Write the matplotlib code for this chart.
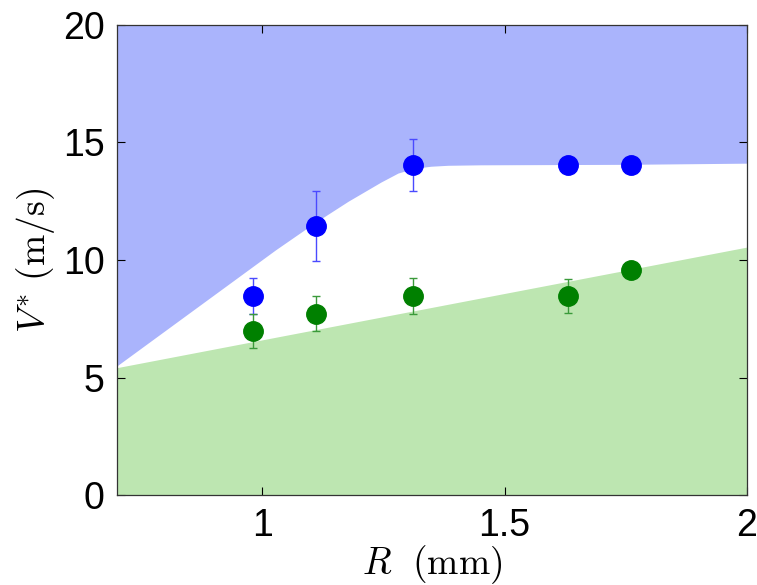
import matplotlib
matplotlib.use("Agg")
import matplotlib.pyplot as plt

plt.rcParams['font.family'] = ['Liberation Sans', 'DejaVu Sans']
plt.rcParams['mathtext.fontset'] = 'cm'

# measured points
R_blue = [0.98, 1.11, 1.31, 1.63, 1.76]
V_blue = [8.47, 11.45, 14.04, 14.04, 14.04]
err_blue = [0.75, 1.48, 1.12, 0.0, 0.0]

R_green = [0.98, 1.11, 1.31, 1.63, 1.76]
V_green = [6.98, 7.72, 8.47, 8.47, 9.57]
err_green = [0.73, 0.75, 0.75, 0.73, 0.0]

# region boundaries
R_upper = [0.70, 1.027, 1.107, 1.177, 1.245, 1.280, 1.313, 1.348, 1.383, 1.45, 1.75, 2.00]
V_upper = [5.50, 10.43, 11.57, 12.50, 13.32, 13.70, 13.90, 13.99, 14.03, 14.05, 14.07, 14.12]
R_lower = [0.70, 2.00]
V_lower = [5.42, 10.55]

fig = plt.figure(figsize=(7.57, 5.85), dpi=100)
ax = fig.add_axes([0.1546, 0.1538, 0.832, 0.8035])

ax.fill_between(R_upper, V_upper, 20, color='#aab4fc', linewidth=0, zorder=1)
ax.fill_between(R_lower, 0, V_lower, color='#bde6b1', linewidth=0, zorder=1)

ax.errorbar(R_blue, V_blue, yerr=err_blue, fmt='o', color='#0000ff', ms=14,
            ecolor='#4a4aff', elinewidth=1, capsize=3, zorder=3)
ax.errorbar(R_green, V_green, yerr=err_green, fmt='o', color='#008000', ms=14,
            ecolor='#3a9a3a', elinewidth=1, capsize=3, zorder=3)

ax.set_xlim(0.7, 2)
ax.set_ylim(0, 20)
ax.set_xticks([1, 1.5, 2])
ax.set_xticklabels(['1', '1.5', '2'])
ax.set_yticks([0, 5, 10, 15, 20])
ax.tick_params(direction='in', length=6, width=0.8, labelsize=27,
               top=True, right=True, pad=9)
for s in ax.spines.values():
    s.set_color('#333333')
    s.set_linewidth(0.9)

ax.set_xlabel(r'$R\ \ (\mathrm{mm})$', fontsize=27, labelpad=0)
ax.set_ylabel(r'$V^{*}\ (\mathrm{m/s})$', fontsize=27, labelpad=4)

fig.savefig('out.png', dpi=100)
